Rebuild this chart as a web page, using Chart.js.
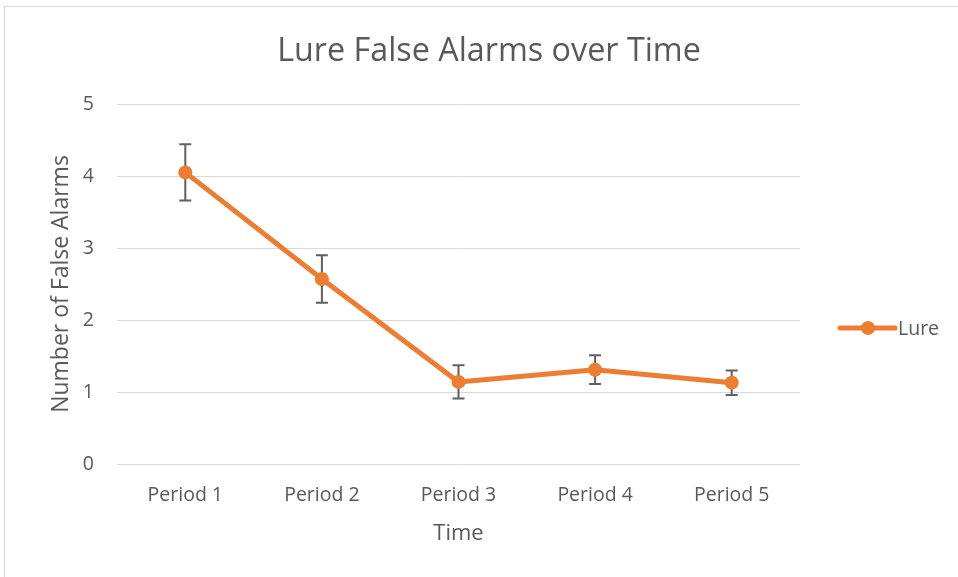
<!DOCTYPE html>
<html><head><meta charset="utf-8">
<script src="https://cdn.jsdelivr.net/npm/chart.js@4.4.1/dist/chart.umd.min.js"></script>
<style>
html,body{margin:0;padding:0;background:#fff;}
#wrap{position:relative;width:958px;height:577px;overflow:hidden;}
#frame{position:absolute;left:4px;top:6px;width:1000px;height:700px;border:1px solid #d9d9d9;box-sizing:border-box;}
canvas{position:absolute;left:0;top:0;}
</style></head>
<body><div id="wrap"><div id="frame"></div><canvas id="c" width="958" height="577"></canvas></div>
<script>
const chartTitle = 'Lure False Alarms over Time';
const xAxisTitle = 'Time';
const yAxisTitle = 'Number of False Alarms';
const seriesName = 'Lure';
const categories = ['Period 1', 'Period 2', 'Period 3', 'Period 4', 'Period 5'];
const lureValues = [4.05, 2.57, 1.14, 1.31, 1.13];
const lureErrors = [0.39, 0.33, 0.23, 0.20, 0.17];
const yTickValues = [0, 1, 2, 3, 4, 5];

const FONT = "'Open Sans', 'DejaVu Sans', sans-serif";
const TEXT = '#595959';
const ORANGE = '#ED7D31';

const errorBarPlugin = {
  id: 'errorBars',
  beforeDatasetsDraw(chart) {
    const {ctx, scales: {x, y}} = chart;
    ctx.save();
    ctx.strokeStyle = '#5f5f5f';
    ctx.lineWidth = 2;
    lureValues.forEach((v, i) => {
      const px = x.getPixelForValue(i);
      const top = y.getPixelForValue(v + lureErrors[i]);
      const bot = y.getPixelForValue(v - lureErrors[i]);
      ctx.beginPath();
      ctx.moveTo(px, top); ctx.lineTo(px, bot);
      ctx.moveTo(px - 6, top); ctx.lineTo(px + 6, top);
      ctx.moveTo(px - 6, bot); ctx.lineTo(px + 6, bot);
      ctx.stroke();
    });
    ctx.restore();
  }
};

const titleLegendPlugin = {
  id: 'titleLegend',
  afterDraw(chart) {
    const {ctx, chartArea} = chart;
    ctx.save();
    ctx.fillStyle = TEXT;
    ctx.font = "32.3px " + FONT;
    ctx.textAlign = 'center';
    ctx.textBaseline = 'alphabetic';
    ctx.fillText(chartTitle, 489, 61);
    // legend
    const ly = 328;
    const lx = chartArea.right + 40;
    ctx.strokeStyle = ORANGE;
    ctx.lineWidth = 5;
    ctx.lineCap = 'round';
    ctx.beginPath();
    ctx.moveTo(lx, ly); ctx.lineTo(lx + 55, ly);
    ctx.stroke();
    ctx.fillStyle = ORANGE;
    ctx.beginPath();
    ctx.arc(lx + 28, ly, 7, 0, Math.PI * 2);
    ctx.fill();
    ctx.fillStyle = TEXT;
    ctx.font = "19.5px " + FONT;
    ctx.textAlign = 'left';
    ctx.textBaseline = 'middle';
    ctx.fillText(chart.data.datasets[0].label, lx + 58, ly + 1);
    ctx.restore();
  }
};

new Chart(document.getElementById('c'), {
  type: 'line',
  data: {
    labels: categories,
    datasets: [{
      label: seriesName,
      data: lureValues,
      borderColor: ORANGE,
      backgroundColor: ORANGE,
      borderWidth: 5,
      pointRadius: 7,
      pointHoverRadius: 7,
      pointBorderWidth: 0,
      pointBackgroundColor: ORANGE,
      tension: 0,
      borderCapStyle: 'round',
      borderJoinStyle: 'round'
    }]
  },
  options: {
    responsive: false,
    devicePixelRatio: 1,
    animation: false,
    layout: {padding: {left: 39, right: 158, top: 104, bottom: 26}},
    plugins: {
      legend: {display: false},
      title: {display: false},
      tooltip: {enabled: false}
    },
    scales: {
      x: {
        type: 'category',
        offset: true,
        grid: {display: false, drawTicks: false},
        border: {display: false},
        ticks: {color: TEXT, font: {family: FONT, size: 19.5}, padding: 20, maxRotation: 0},
        title: {display: true, text: xAxisTitle, color: TEXT, font: {family: FONT, size: 22}, padding: {top: 4, bottom: 4}},
        afterFit(scale) { scale.height = 87; }
      },
      y: {
        min: 0, max: 5,
        afterBuildTicks(scale) { scale.ticks = yTickValues.map(v => ({value: v})); },
        grid: {color: '#d9d9d9', lineWidth: 1, drawTicks: false},
        border: {display: false},
        ticks: {color: TEXT, font: {family: FONT, size: 19.5}, padding: 23},
        title: {display: true, text: yAxisTitle, color: TEXT, font: {family: FONT, size: 23}, padding: {top: 9, bottom: 4}},
        afterFit(scale) { scale.width = 78; }
      }
    }
  },
  plugins: [errorBarPlugin, titleLegendPlugin]
});
</script>
</body></html>
